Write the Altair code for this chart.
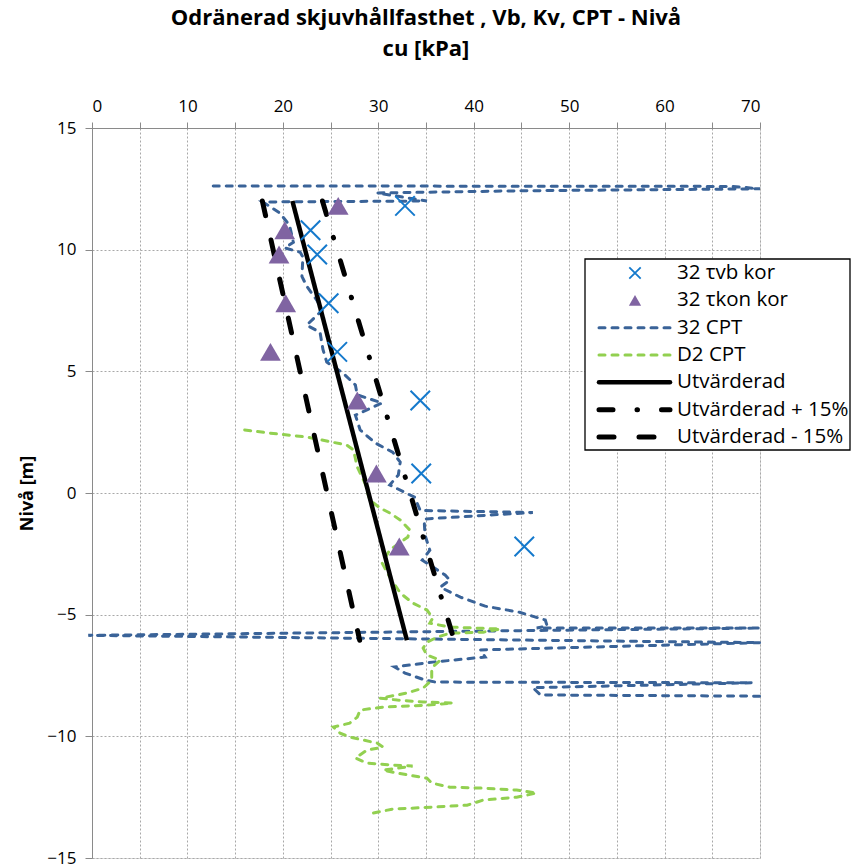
import altair as alt
import pandas as pd

FONT = "Open Sans"

# ---------------- data ----------------
point_depth = [11.8, 10.8, 9.8, 7.8, 5.8, 3.8, 0.8, -2.2]
tvb_cu = [32.8, 22.9, 23.6, 24.8, 25.7, 34.4, 34.5, 45.3]
tkon_cu = [25.8, 20.2, 19.6, 20.3, 18.7, 27.8, 29.8, 32.2]

cpt32_cu = [12.7, 67.1, 70.0, 45.0, 29.9, 35.1, 17.9, 19.7, 20.7, 21.1, 20.2, 21.8, 22.1, 22.0,
            22.5, 23.6, 24.1, 22.5, 23.9, 24.2, 24.6, 26.3, 27.6, 27.8, 30.4, 27.6, 28.1, 29.7,
            31.5, 32.3, 32.1, 31.2, 33.8, 34.4, 46.2, 34.8, 34.9, 35.4, 34.6, 37.0, 37.5, 36.5,
            38.6, 41.2, 44.8, 47.5, 47.7, 46.6, 70.0, -0.4, 70.0, 40.7, 41.2, 35.7, 31.7, 32.8,
            34.9, 36.0, 69.2, 46.2, 47.0, 70.0]
cpt32_depth = [12.62, 12.6, 12.5, 12.42, 12.33, 12.0, 11.96, 11.5, 11.0, 10.3, 10.07, 9.9, 9.7, 8.9,
               8.5, 7.9, 7.5, 6.9, 6.6, 5.9, 5.38, 4.93, 4.44, 4.03, 3.7, 3.2, 2.59, 2.05,
               1.68, 1.27, 0.74, 0.33, -0.17, -0.72, -0.8, -1.07, -1.73, -2.35, -2.76, -3.37, -3.58, -3.87,
               -4.28, -4.65, -4.9, -5.22, -5.47, -5.55, -5.55, -5.85, -6.15, -6.45, -6.74, -6.95, -7.15, -7.4,
               -7.69, -7.77, -7.8, -8.0, -8.3, -8.35]

d2_cu = [16.0, 18.7, 22.5, 26.7, 27.4, 27.8, 28.6, 29.1, 30.2, 31.2, 32.3, 33.3, 33.1, 31.2,
         30.4, 31.2, 32.3, 33.6, 35.1, 35.7, 35.4, 37.5, 42.8, 41.0, 37.5, 36.2, 35.1, 34.7,
         35.1, 36.5, 35.6, 35.6, 34.7, 33.0, 30.2, 32.0, 34.7, 37.8, 35.1, 30.5, 28.1, 27.8,
         27.0, 25.3, 26.0, 27.0, 29.9, 30.5, 28.8, 27.6, 28.8, 31.5, 33.6, 30.5, 32.0, 35.1,
         35.6, 37.5, 41.0, 44.5, 46.6, 44.5, 41.0, 39.3, 35.7, 31.5, 29.5]
d2_depth = [2.59, 2.46, 2.30, 1.97, 1.77, 1.07, 0.41, -0.29, -0.62, -0.82, -1.11, -1.52, -1.81, -2.34,
            -2.88, -3.45, -4.11, -4.52, -4.81, -5.14, -5.35, -5.51, -5.59, -5.72, -5.76, -5.92, -6.13, -6.37,
            -6.66, -6.87, -7.19, -7.69, -8.02, -8.22, -8.43, -8.51, -8.59, -8.63, -8.72, -8.80, -8.92, -9.21,
            -9.46, -9.62, -9.87, -10.03, -10.28, -10.44, -10.57, -10.89, -11.10, -11.18, -11.22, -11.39, -11.51, -11.72,
            -11.92, -12.09, -12.13, -12.21, -12.33, -12.50, -12.62, -12.83, -12.91, -12.99, -13.15]

utv_depth = [12.0, -6.05]
utv_cu = [21.0, 33.0]
utv_plus_cu = [24.15, 37.95]
utv_minus_cu = [17.85, 28.05]

legend_labels = ["32 τvb kor", "32 τkon kor", "32 CPT", "D2 CPT",
                 "Utvärderad", "Utvärderad + 15%", "Utvärderad - 15%"]

x_ticks = list(range(0, 75, 5))
y_ticks = list(range(-15, 20, 5))

# ---------------- encodings ----------------
x_scale = alt.Scale(domain=[0, 70], nice=False, zero=False)
y_scale = alt.Scale(domain=[-15, 15], nice=False, zero=False)

x_axis = alt.Axis(orient="top", values=x_ticks, title=None,
                  labelExpr="datum.value % 10 == 0 ? datum.label : ''",
                  grid=True, gridDash=[2, 2], gridColor="#a8a8a8", gridWidth=1,
                  domainColor="#8a8a8a", tickColor="#8a8a8a", tickSize=6,
                  labelFont=FONT, labelFontSize=17, labelColor="#000000", labelPadding=7)
y_axis = alt.Axis(orient="left", values=y_ticks, title="Nivå [m]",
                  grid=True, gridDash=[2, 2], gridColor="#a8a8a8", gridWidth=1,
                  domainColor="#8a8a8a", tickColor="#8a8a8a", tickSize=7,
                  labelFont=FONT, labelFontSize=17, labelColor="#000000", labelPadding=9,
                  titleFont=FONT, titleFontSize=18, titleFontWeight="bold", titleColor="#000000",
                  titlePadding=10)


def X(field):
    return alt.X(f"{field}:Q", scale=x_scale, axis=x_axis)


def Y(field):
    return alt.Y(f"{field}:Q", scale=y_scale, axis=y_axis)


df_pts = pd.DataFrame({"depth": point_depth, "tvb": tvb_cu, "tkon": tkon_cu})
df_cpt32 = pd.DataFrame({"cu": cpt32_cu, "depth": cpt32_depth, "i": range(len(cpt32_cu))})
df_d2 = pd.DataFrame({"cu": d2_cu, "depth": d2_depth, "i": range(len(d2_cu))})
df_utv = pd.DataFrame({"depth": utv_depth, "utv": utv_cu, "plus": utv_plus_cu,
                       "minus": utv_minus_cu, "i": range(len(utv_depth))})

BLUE = "#3A6398"
GREEN = "#92D050"
CROSS = "#1479CC"
PURPLE = "#8064A2"
CROSS_PATH = "M-1,-1L1,1M-1,1L1,-1"

cpt32 = alt.Chart(df_cpt32).mark_line(color=BLUE, strokeWidth=3, strokeDash=[6, 7],
                                      strokeCap="round").encode(
    x=X("cu"), y=Y("depth"), order=alt.Order("i:Q"))
d2 = alt.Chart(df_d2).mark_line(color=GREEN, strokeWidth=3, strokeDash=[6, 7],
                                strokeCap="round").encode(
    x=X("cu"), y=Y("depth"), order=alt.Order("i:Q"))
utv = alt.Chart(df_utv).mark_line(color="#000000", strokeWidth=4.5).encode(
    x=X("utv"), y=Y("depth"), order=alt.Order("i:Q"))
utv_plus = alt.Chart(df_utv).mark_line(color="#000000", strokeWidth=5, strokeCap="round",
                                       strokeDash=[14, 24, 0.5, 24]).encode(
    x=X("plus"), y=Y("depth"), order=alt.Order("i:Q"))
utv_minus = alt.Chart(df_utv).mark_line(color="#000000", strokeWidth=5, strokeCap="round",
                                        strokeDash=[15, 25]).encode(
    x=X("minus"), y=Y("depth"), order=alt.Order("i:Q"))
tkon = alt.Chart(df_pts).mark_point(shape="triangle-up", filled=True, color=PURPLE,
                                    size=430, opacity=1).encode(x=X("tkon"), y=Y("depth"))
tvb = alt.Chart(df_pts).mark_point(shape=CROSS_PATH, filled=False, color=CROSS,
                                   size=380, strokeWidth=2, opacity=1).encode(x=X("tvb"), y=Y("depth"))

main = alt.layer(cpt32, d2, utv, utv_plus, utv_minus, tkon, tvb)

# ---------------- legend ----------------
df_leg = pd.DataFrame({"row": range(len(legend_labels)), "label": legend_labels})
leg_y = alt.Y("row:Q", scale=alt.Scale(domain=[0, 6], range=[145, 309]), axis=None)
LX1, LX2, LXS, LXT = 507, 578, 543, 585

box = alt.Chart(pd.DataFrame({"a": [0]})).mark_rect(fill="white", stroke="#000000",
                                                     strokeWidth=1.3).encode(
    x=alt.value(493), x2=alt.value(758), y=alt.value(131), y2=alt.value(322))
leg_text = alt.Chart(df_leg).mark_text(align="left", baseline="middle", font=FONT,
                                       fontSize=20.5, color="#000000").encode(
    x=alt.value(LXT), y=leg_y, text="label:N")
leg_cross = alt.Chart(df_leg).transform_filter("datum.row == 0").mark_point(
    shape=CROSS_PATH, filled=False, color=CROSS, size=130, strokeWidth=1.8, opacity=1).encode(
    x=alt.value(LXS), y=leg_y)
leg_tri = alt.Chart(df_leg).transform_filter("datum.row == 1").mark_point(
    shape="triangle-up", filled=True, color=PURPLE, size=150, opacity=1).encode(
    x=alt.value(LXS), y=leg_y)


def leg_rule(row, **props):
    return alt.Chart(df_leg).transform_filter(f"datum.row == {row}").mark_rule(**props).encode(
        x=alt.value(LX1), x2=alt.value(LX2), y=leg_y)


leg_lines = [
    leg_rule(2, color=BLUE, strokeWidth=3, strokeDash=[6, 7], strokeCap="round"),
    leg_rule(3, color=GREEN, strokeWidth=3, strokeDash=[6, 7], strokeCap="round"),
    leg_rule(4, color="#000000", strokeWidth=4.5, strokeCap="round"),
    leg_rule(5, color="#000000", strokeWidth=5, strokeDash=[14, 24, 0.5, 24], strokeCap="round"),
    leg_rule(6, color="#000000", strokeWidth=5, strokeDash=[15, 25], strokeCap="round"),
]

legend = alt.layer(box, leg_text, leg_cross, leg_tri, *leg_lines)

chart = alt.layer(main, legend).resolve_scale(x="independent", y="independent").properties(
    width=668, height=730,
    autosize=alt.AutoSizeParams(type="none"),
    padding={"left": 92, "top": 128, "right": 91, "bottom": 10},
    title=alt.TitleParams(
        text=["Odränerad skjuvhållfasthet , Vb, Kv, CPT - Nivå", "cu [kPa]"],
        font=FONT, fontSize=22, fontWeight="bold", color="#000000",
        anchor="middle", frame="group", lineHeight=31, offset=36),
).configure_view(fill="#EAEAEA", stroke=None).configure(background="white")

chart.save("out.html", embed_options={"renderer": "svg", "actions": False})
